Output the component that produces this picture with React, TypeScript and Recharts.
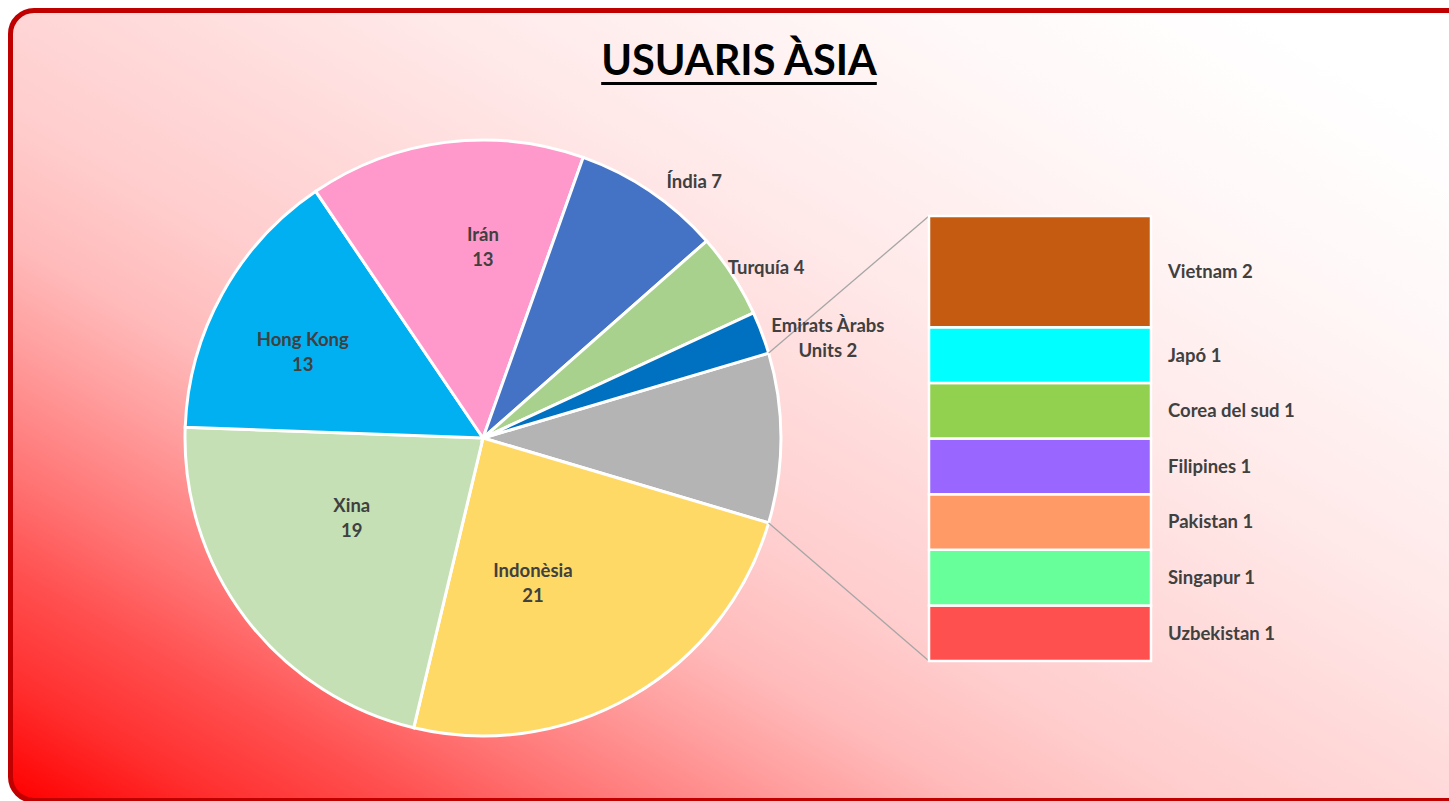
import React from 'react'
import { PieChart, Pie, Cell, BarChart, Bar, XAxis, YAxis, LabelList } from 'recharts'

// main pie: first slice is the one exploded into the bar on the right
const pieCountries = ['Altres', 'Indonèsia', 'Xina', 'Hong Kong', 'Irán', 'Índia', 'Turquía', 'Emirats Àrabs Units']
const pieMainValues = [21, 19, 13, 13, 7, 4, 2]
const pieColors = ['#B4B4B4', '#FFD966', '#C5E0B4', '#00B0F0', '#FF99CC', '#4472C4', '#A9D18E', '#0070C0']

// secondary bar (the "Altres" slice)
const barCountries = ['Vietnam', 'Japó', 'Corea del sud', 'Filipines', 'Pakistan', 'Singapur', 'Uzbekistan']
const barValues = [2, 1, 1, 1, 1, 1, 1]
const barColors = ['#C55A11', '#00FFFF', '#92D050', '#9966FF', '#FF9966', '#66FF99', '#FF5050']

const FONT = 'Lato, "Open Sans", sans-serif'
const LABEL_COLOR = '#404040'

const barTotal = barValues.reduce((a, b) => a + b, 0)
const pieValues = [barTotal, ...pieMainValues]
const pieTotal = pieValues.reduce((a, b) => a + b, 0)
const pieData = pieCountries.map((name, i) => ({ name, value: pieValues[i] }))

const barRow: Record<string, any> = { name: 'Altres' }
barCountries.forEach((c, i) => { barRow[c] = barValues[i] })
const barData = [barRow]

// the "Altres" slice is centred on 3 o'clock, slices run clockwise
const halfOther = (barTotal / pieTotal) * 180
const START = halfOther
const END = halfOther - 360

// pie geometry
const CX = 483
const CY = 438
const R = 298

// bar chart geometry (page coordinates)
const BAR_BOX = { left: 900, top: 200, width: 440, height: 480 }
const BAR_MARGIN = { top: 16, left: 29, right: 189, bottom: 19 }
const barLeft = BAR_BOX.left + BAR_MARGIN.left
const barTop = BAR_BOX.top + BAR_MARGIN.top
const barBottom = BAR_BOX.top + BAR_BOX.height - BAR_MARGIN.bottom

// label placement: radius factor and angle nudge from the slice middle
const labelPlace: Record<string, { r: number; da: number; outside?: boolean }> = {
  'Indonèsia': { r: 0.515, da: -11 },
  'Xina': { r: 0.515, da: -6 },
  'Hong Kong': { r: 0.67, da: 3.5 },
  'Irán': { r: 0.64, da: -7.2 },
  'Índia': { r: 1.116, da: -5.3, outside: true },
  'Turquía': { r: 1.108, da: -2.1, outside: true },
  'Emirats Àrabs Units': { r: 1.205, da: -4.5, outside: true },
}

const RAD = Math.PI / 180
const polar = (cx: number, cy: number, r: number, a: number) => ({
  x: cx + r * Math.cos(-a * RAD),
  y: cy + r * Math.sin(-a * RAD),
})

function wrap(text: string, max: number) {
  const words = text.split(' ')
  const lines: string[] = []
  let cur = ''
  words.forEach((w) => {
    if (cur && (cur + ' ' + w).length > max) {
      lines.push(cur)
      cur = w
    } else {
      cur = cur ? cur + ' ' + w : w
    }
  })
  if (cur) lines.push(cur)
  return lines
}

function MultiLine({ x, y, lines }: { x: number; y: number; lines: string[] }) {
  const lh = 25
  const first = y - ((lines.length - 1) * lh) / 2 + 6.5
  return (
    <text textAnchor="middle" fill={LABEL_COLOR} fontFamily={FONT} fontWeight={700} fontSize={18.5}>
      {lines.map((l, i) => (
        <tspan key={i} x={x} y={first + i * lh}>{l}</tspan>
      ))}
    </text>
  )
}

function renderPieLabel(props: any) {
  const { cx, cy, midAngle, outerRadius, index } = props
  const name = pieCountries[index]
  if (index === 0) {
    // connector lines from the "Altres" slice to the bar
    const p1 = polar(cx, cy, outerRadius, START)
    const p2 = polar(cx, cy, outerRadius, START - 2 * halfOther)
    return (
      <g>
        <line x1={p1.x} y1={p1.y} x2={barLeft} y2={barTop} stroke="#A6A6A6" strokeWidth={1.3} />
        <line x1={p2.x} y1={p2.y} x2={barLeft} y2={barBottom} stroke="#A6A6A6" strokeWidth={1.3} />
      </g>
    )
  }
  const place = labelPlace[name]
  const p = polar(cx, cy, outerRadius * place.r, midAngle + place.da)
  const value = pieValues[index]
  const lines = place.outside ? wrap(`${name} ${value}`, 14) : [name, String(value)]
  return <MultiLine x={p.x} y={p.y} lines={lines} />
}

function BarLabel(props: any) {
  const { x, y, width, height, value, name } = props
  return (
    <text
      x={x + width + 17}
      y={y + height / 2 + 6.5}
      textAnchor="start"
      fill={LABEL_COLOR}
      fontFamily={FONT}
      fontWeight={700}
      fontSize={18.5}
    >
      {`${name} ${value}`}
    </text>
  )
}

export default function App() {
  // bottom of the stack is drawn first
  const stackOrder = barCountries.map((c, i) => i).reverse()

  return (
    <div style={{ position: 'relative', width: 1449, height: 801, overflow: 'hidden' }}>
      <style>{'body{margin:0;overflow:hidden}'}</style>
      <div
        style={{
          position: 'absolute',
          left: 8,
          top: 8,
          width: 1470,
          height: 795,
          boxSizing: 'border-box',
          border: '5px solid #C00000',
          borderRadius: 26,
          background:
            'linear-gradient(30deg, #FF0000 0%, #FF2E2E 7%, #FF5050 14%, #FF7474 20%, #FF9E9E 28%, #FFBABA 34%, #FFCDCD 42%, #FFD8D8 50%, #FFE8E8 62%, #FFF7F7 78%, #FFFFFF 92%)',
        }}
      />
      <div
        style={{
          position: 'absolute',
          left: 0,
          width: 1478,
          top: 38,
          textAlign: 'center',
          fontFamily: FONT,
          fontWeight: 700,
          fontSize: 41.5,
          lineHeight: '43px',
          color: '#000',
          textDecoration: 'underline',
          textDecorationThickness: 3,
          textUnderlineOffset: 7,
        }}
      >
        USUARIS ÀSIA
      </div>
      <div style={{ position: 'absolute', left: 0, top: 0 }}>
        <PieChart width={1449} height={801} margin={{ top: 0, right: 0, bottom: 0, left: 0 }}>
          <Pie
            data={pieData}
            dataKey="value"
            nameKey="name"
            cx={CX}
            cy={CY}
            outerRadius={R}
            startAngle={START}
            endAngle={END}
            stroke="#FFFFFF"
            strokeWidth={3}
            labelLine={false}
            label={renderPieLabel}
            isAnimationActive={false}
          >
            {pieData.map((d, i) => (
              <Cell key={d.name} fill={pieColors[i]} />
            ))}
          </Pie>
        </PieChart>
      </div>
      <div style={{ position: 'absolute', left: BAR_BOX.left, top: BAR_BOX.top }}>
        <BarChart
          width={BAR_BOX.width}
          height={BAR_BOX.height}
          data={barData}
          margin={BAR_MARGIN}
          barCategoryGap={0}
          barGap={0}
        >
          <XAxis dataKey="name" type="category" hide />
          <YAxis type="number" domain={[0, barTotal]} hide />
          {stackOrder.map((i) => (
            <Bar
              key={barCountries[i]}
              dataKey={barCountries[i]}
              stackId="altres"
              fill={barColors[i]}
              stroke="#FFFFFF"
              strokeWidth={2.5}
              isAnimationActive={false}
            >
              <LabelList
                dataKey={barCountries[i]}
                content={(p: any) => <BarLabel {...p} name={barCountries[i]} />}
              />
            </Bar>
          ))}
        </BarChart>
      </div>
    </div>
  )
}
